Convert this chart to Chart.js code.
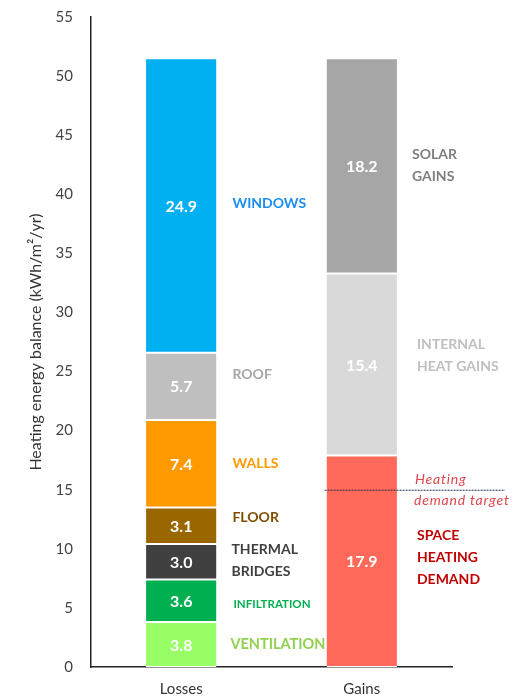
<!DOCTYPE html>
<html>
<head>
<meta charset="utf-8">
<script src="https://cdn.jsdelivr.net/npm/chart.js@4"></script>
<style>
  html, body { margin: 0; padding: 0; background: #fff; }
</style>
</head>
<body>
<canvas id="bilan" width="528" height="700"></canvas>
<script>
// Heating energy balance - losses vs gains

const categories = ['Losses', 'Gains'];

// losses, bottom to top
const lossNames = ['VENTILATION', 'INFILTRATION', 'THERMAL\nBRIDGES', 'FLOOR', 'WALLS', 'ROOF', 'WINDOWS'];
const lossValues = [3.8, 3.6, 3.0, 3.1, 7.4, 5.7, 24.9];

// gains, bottom to top
const gainNames = ['SPACE\nHEATING\nDEMAND', 'INTERNAL\nHEAT GAINS', 'SOLAR\nGAINS'];
const gainValues = [17.9, 15.4, 18.2];

const yMin = 0, yMax = 55, yStep = 5;
const targetValue = 15;
const targetText = ['Heating', 'demand target'];

// look of each segment: fill, label colour, label offsets, label size
const lossStyles = [
  { fill: '#99ff66', text: '#92d050', dx: 14, dy: 0, size: 14.5 },
  { fill: '#00b050', text: '#00b050', dx: 17, dy: 3, size: 11.5 },
  { fill: '#404040', text: '#404040', dx: 15, dy: -1, size: 14 },
  { fill: '#996600', text: '#7f4f00', dx: 16, dy: -8, size: 14 },
  { fill: '#ff9900', text: '#ff9900', dx: 16, dy: 0, size: 14 },
  { fill: '#bfbfbf', text: '#a6a6a6', dx: 16, dy: -12, size: 14 },
  { fill: '#00b0f0', text: '#1a8ff0', dx: 16, dy: -2, size: 14 }
];
const gainStyles = [
  { fill: '#ff6959', text: '#c00000', dx: 20, dy: -4, size: 14 },
  { fill: '#d9d9d9', text: '#bfbfbf', dx: 20, dy: -9, size: 14 },
  { fill: '#a6a6a6', text: '#7f7f7f', dx: 15, dy: 0, size: 14 }
];

const datasets = [];
lossValues.forEach((v, i) => {
  datasets.push({
    label: lossNames[i],
    data: [v, null],
    backgroundColor: lossStyles[i].fill,
    style: lossStyles[i]
  });
});
gainValues.forEach((v, i) => {
  datasets.push({
    label: gainNames[i],
    data: [null, v],
    backgroundColor: gainStyles[i].fill,
    style: gainStyles[i]
  });
});
datasets.forEach(d => {
  d.stack = 'bilan';
  d.borderColor = '#ffffff';
  d.borderWidth = { top: 1, bottom: 1, left: 0, right: 0 };
  d.borderSkipped = false;
  d.categoryPercentage = 1;
  d.barPercentage = 0.39;
});

// values inside the bars, names beside them, and the target line
const etiquettes = {
  id: 'etiquettes',
  afterDatasetsDraw(chart) {
    const ctx = chart.ctx;
    const y = chart.scales.y;
    ctx.save();
    chart.data.datasets.forEach((ds, i) => {
      const meta = chart.getDatasetMeta(i);
      meta.data.forEach((bar, j) => {
        const v = ds.data[j];
        if (v == null) return;
        const mid = (bar.y + bar.base) / 2;
        ctx.fillStyle = '#ffffff';
        ctx.font = 'bold 16px Lato';
        ctx.textAlign = 'center';
        ctx.textBaseline = 'middle';
        ctx.fillText(v.toFixed(1), bar.x, mid + 1);

        const st = ds.style;
        const lines = ds.label.split('\n');
        const lh = 22;
        ctx.fillStyle = st.text;
        ctx.font = 'bold ' + st.size + 'px Lato';
        ctx.textAlign = 'left';
        const x0 = bar.x + bar.width / 2 + st.dx;
        const y0 = mid + st.dy - (lines.length - 1) * lh / 2;
        lines.forEach((t, k) => ctx.fillText(t, x0, y0 + k * lh));
      });
    });

    // heating demand target
    const gainBar = chart.getDatasetMeta(lossValues.length).data[1];
    const ty = y.getPixelForValue(targetValue);
    ctx.strokeStyle = '#1f2f4f';
    ctx.lineWidth = 1;
    ctx.setLineDash([2, 1]);
    ctx.beginPath();
    ctx.moveTo(gainBar.x - gainBar.width / 2 - 2, ty + 0.5);
    ctx.lineTo(505, ty + 0.5);
    ctx.stroke();
    ctx.setLineDash([]);
    ctx.fillStyle = '#e0474c';
    ctx.font = 'italic 14px Lato';
    ctx.letterSpacing = '0.8px';
    ctx.textAlign = 'left';
    ctx.fillText(targetText[0], 415, ty - 10);
    ctx.fillText(targetText[1], 414, ty + 11);
    ctx.restore();
  }
};

new Chart(document.getElementById('bilan'), {
  type: 'bar',
  data: { labels: categories, datasets: datasets },
  plugins: [etiquettes],
  options: {
    responsive: false,
    animation: false,
    layout: { padding: { top: 17, right: 76, left: 0, bottom: 0 } },
    plugins: { legend: { display: false }, tooltip: { enabled: false } },
    scales: {
      x: {
        stacked: true,
        grid: { display: false, drawTicks: false },
        border: { color: '#222', width: 1.5 },
        ticks: { color: '#333', font: { family: 'Lato', size: 15 }, padding: 13 },
        afterFit: s => { s.height = 33; s.paddingLeft = 0; s.paddingRight = 0; }
      },
      y: {
        stacked: true,
        min: yMin,
        max: yMax,
        grid: { display: false, drawTicks: false },
        border: { color: '#222', width: 1.5 },
        ticks: { stepSize: yStep, color: '#444', font: { family: 'Lato', size: 15 }, padding: 18 },
        title: {
          display: true,
          text: 'Heating energy balance (kWh/m²/yr)',
          color: '#333',
          font: { family: 'Lato', size: 16 },
          padding: { top: 26, bottom: 0 }
        },
        afterFit: s => { s.width = 91; s.paddingTop = 0; s.paddingBottom = 0; }
      }
    }
  }
});
</script>
</body>
</html>
